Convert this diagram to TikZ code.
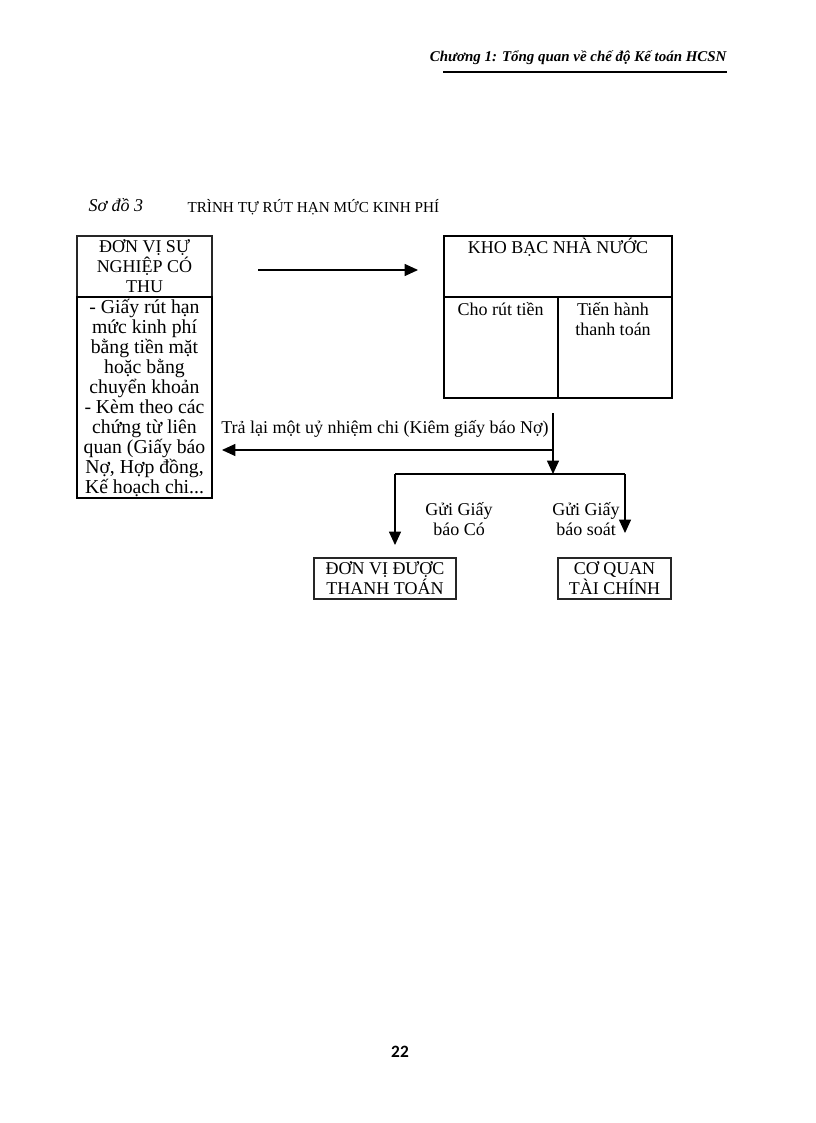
\documentclass[tikz,border=0pt]{standalone}
\usepackage{fontspec}
\setmainfont{Liberation Serif}
\newfontfamily\numfont{Carlito}
\usetikzlibrary{arrows.meta,shapes,positioning,calc}
\newcommand\boxfont{\fontsize{13.5}{15}\selectfont}

\begin{document}
\begin{tikzpicture}[x=0.75pt,y=-0.75pt,>={Triangle[length=10pt,width=9pt]},line width=0.8pt,
        box/.style={draw=black,line width=0.9pt,inner sep=0pt,outer sep=0pt,align=center,font=\boxfont},
        dbox/.style={box,line width=1.1pt,draw=black!85},
        txt/.style={inner sep=0pt,align=center,font=\boxfont}]

        \fill[white] (0,0) rectangle (816,1123);
        \useasboundingbox (0,0) rectangle (816,1123);

        \node [anchor=base east,inner sep=0pt,font=\fontsize{11.2}{13}\selectfont\bfseries\itshape] (hd) at (727,62) {Chương 1: Tổng quan về chế độ Kế toán HCSN};
        \coordinate (u1) at (443,72);
        \coordinate (u2) at (727,72);
        \node [anchor=base west,inner sep=0pt,font=\boxfont\itshape] (sd) at (88,212) {Sơ đồ 3};
        \node [anchor=base west,inner sep=0pt,font=\fontsize{11.4}{13}\selectfont] (ten) at (187,213) {TRÌNH TỰ RÚT HẠN MỨC KINH PHÍ};

        \node [dbox,minimum width=101.25pt,minimum height=45.75pt] (dv) at (144.5,266.5) {ĐƠN VỊ SỰ\\NGHIỆP CÓ\\THU};
        \node [box,minimum width=101.25pt,minimum height=150.75pt,font=\fontsize{14.8}{15}\selectfont] (ct) [below=0pt of dv] {- Giấy rút hạn\\mức kinh phí\\bằng tiền mặt\\hoặc bằng\\chuyển khoản\\- Kèm theo các\\chứng từ liên\\quan (Giấy báo\\Nợ, Hợp đồng,\\Kế hoạch chi...};

        \node [box,minimum width=171pt,minimum height=45.75pt] (kb) at (558,266.5) {};
        \node [box,minimum width=85.5pt,minimum height=75.75pt] (rut) [below right=0pt of kb.south west] {};
        \node [box,minimum width=85.5pt,minimum height=75.75pt] (tt)  [right=0pt of rut] {};
        \node [txt,anchor=base] (kbt)  at (558,253) {KHO BẠC NHÀ NƯỚC};
        \node [txt,anchor=base] (rutt) at (500.5,315) {Cho rút tiền};
        \node [txt]             (ttt)  at (613,319) {Tiến hành\\thanh toán};

        \coordinate (g1) at (258,270);
        \coordinate (g2) at (418,270);

        \coordinate (k1) at (553,413);
        \coordinate (k2) at (553,450);
        \coordinate (k3) at (553,474);
        \coordinate (k4) at (222,450);
        \node [txt,anchor=base] (tl) at (385,433) {Trả lại một uỷ nhiệm chi (Kiêm giấy báo Nợ)};

        \coordinate (b1) at (395,474);
        \coordinate (b2) at (625,474);
        \coordinate (b3) at (395,545);
        \coordinate (b4) at (625,533);
        \node [txt] (gc) at (459,519) {Gửi Giấy\\báo Có};
        \node [txt] (gs) at (586,519) {Gửi Giấy\\báo soát};

        \node [dbox,minimum width=106.5pt,minimum height=30.75pt] (dvtt) at (385,578.5) {ĐƠN VỊ ĐƯỢC\\THANH TOÁN};
        \node [dbox,minimum width=84.75pt,minimum height=30.75pt] (cqtc) at (614.5,578.5) {CƠ QUAN\\TÀI CHÍNH};

        \node [inner sep=0pt,font={\fontsize{13}{15}\numfont\bfseries}] (pg) at (400,1052) {22};

        \path[line width=1.5pt] (u1) edge (u2);
        \path[->]
          (g1) edge (g2)
          (k1) edge (k3)
          (k2) edge (k4)
          (b1) edge (b3)
          (b2) edge (b4)
        ;
        \path (b1) edge (b2);
      \end{tikzpicture}
\end{document}
